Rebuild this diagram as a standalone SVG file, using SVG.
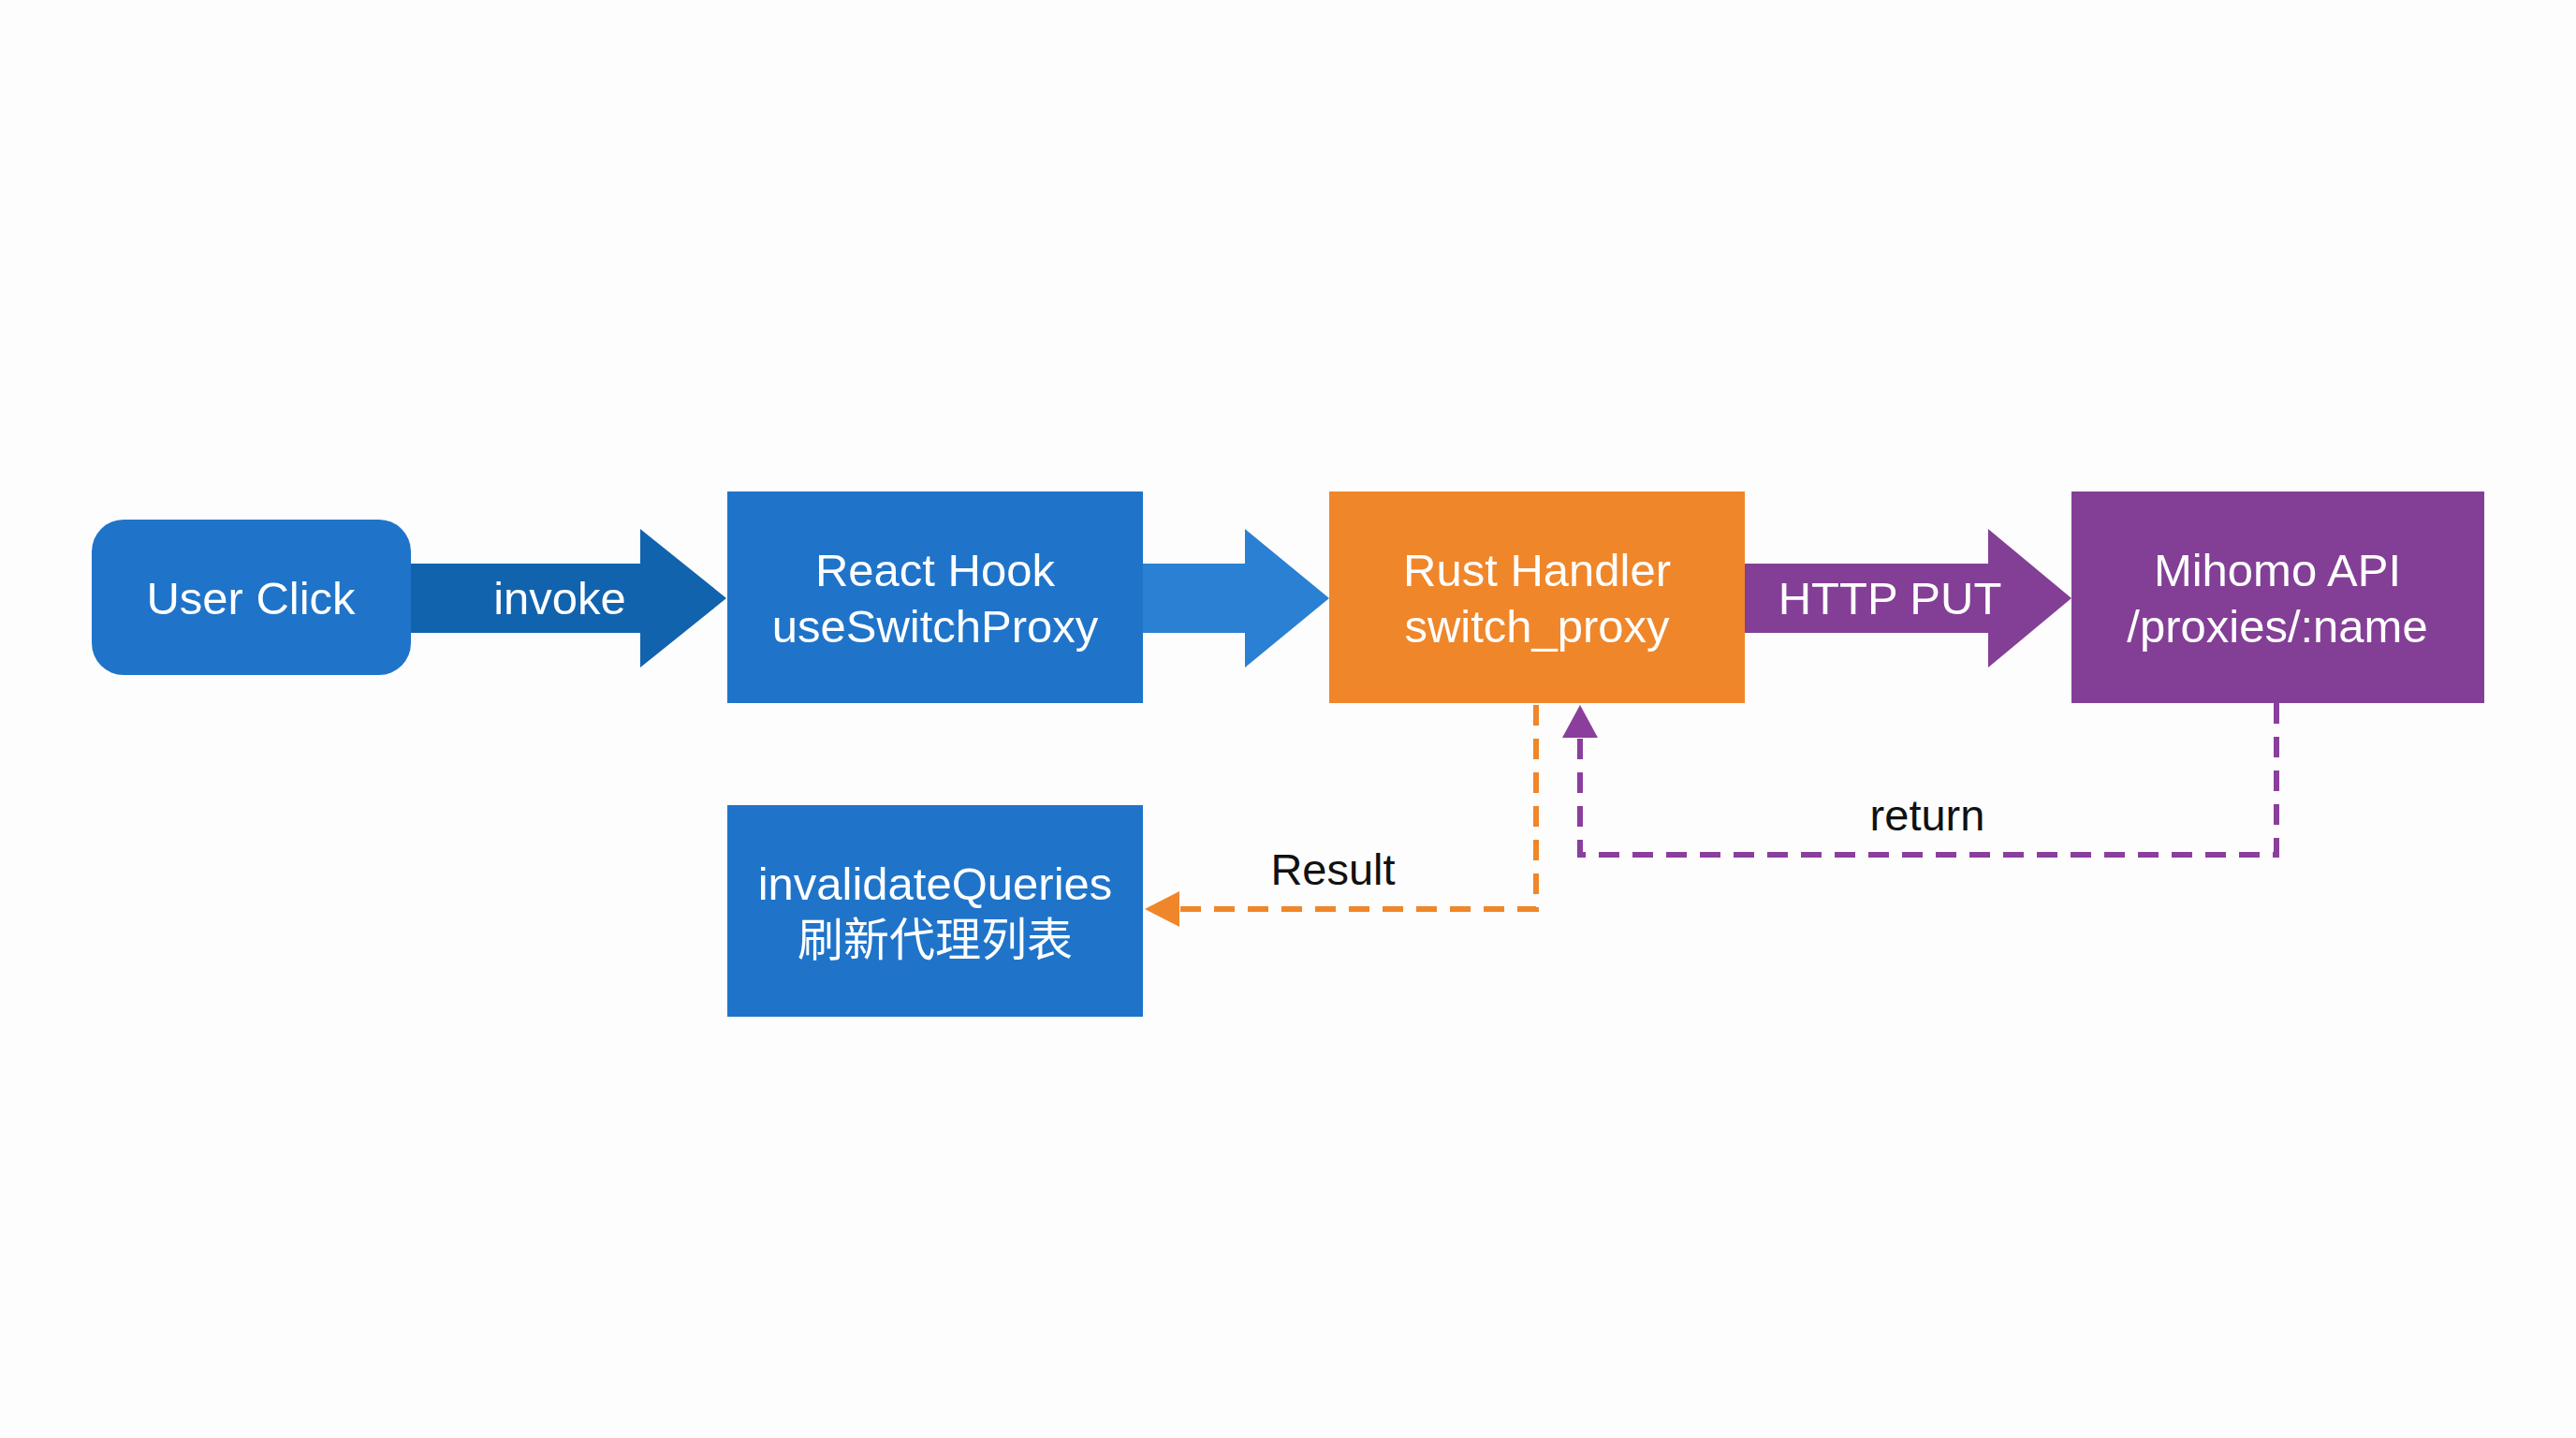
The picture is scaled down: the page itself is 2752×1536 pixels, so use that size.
<svg xmlns="http://www.w3.org/2000/svg" width="2752" height="1536" viewBox="0 0 2752 1536">
<style>
.t{font-family:"Liberation Sans","Noto Sans CJK SC",sans-serif;font-size:49px;fill:#fff;text-anchor:middle}
.l{font-family:"Liberation Sans",sans-serif;font-size:47px;fill:#111;text-anchor:middle}
.blue{fill:#1F74C9}
</style>
<defs>
<marker id="ao" markerWidth="10" markerHeight="10" refX="9" refY="5" orient="auto" markerUnits="userSpaceOnUse" viewBox="0 0 10 10"><path d="M0,0 L10,5 L0,10 z" fill="#F0862A"/></marker>
</defs>
<rect width="2752" height="1536" fill="#FDFDFD"/>
<g id="connectors">
<path d="M439,602 H684 V565 L776,639 L684,713 V676 H439 Z" fill="#1163AE"/>
<text class="t" x="598" y="656">invoke</text>
<path d="M1221,602 H1330 V565 L1420,639 L1330,713 V676 H1221 Z" fill="#2A80D2"/>
<path d="M1864,602 H2124 V565 L2213,639 L2124,713 V676 H1864 Z" fill="#833F96"/>
<text class="t" x="2019" y="656">HTTP PUT</text>
<polyline points="1641,753 1641,971 1260,971" fill="none" stroke="#F0862A" stroke-width="6" stroke-dasharray="22,14"/>
<path d="M1223,971 L1260,952 L1260,990 Z" fill="#F0862A"/>
<text class="l" x="1424" y="945">Result</text>
<polyline points="2432,751 2432,913 1688,913 1688,788" fill="none" stroke="#8A3F9C" stroke-width="6" stroke-dasharray="22,14"/>
<path d="M1688,753 L1669,788 L1707,788 Z" fill="#8A3F9C"/>
<text class="l" x="2059" y="887">return</text>
</g>
<g id="user"><rect x="98" y="555" width="341" height="166" rx="34" class="blue"/><text class="t" x="268" y="656">User Click</text></g>
<g id="hook"><rect x="777" y="525" width="444" height="226" class="blue"/><text class="t" x="999" y="626">React Hook</text><text class="t" x="999" y="686">useSwitchProxy</text></g>
<g id="rust"><rect x="1420" y="525" width="444" height="226" fill="#F0862A"/><text class="t" x="1642" y="626">Rust Handler</text><text class="t" x="1642" y="686">switch_proxy</text></g>
<g id="mihomo"><rect x="2213" y="525" width="441" height="226" fill="#833F96"/><text class="t" x="2433" y="626">Mihomo API</text><text class="t" x="2433" y="686">/proxies/:name</text></g>
<g id="invalidate"><rect x="777" y="860" width="444" height="226" class="blue"/><text class="t" x="999" y="961">invalidateQueries</text><text class="t" x="999" y="1021">刷新代理列表</text></g>
</svg>
